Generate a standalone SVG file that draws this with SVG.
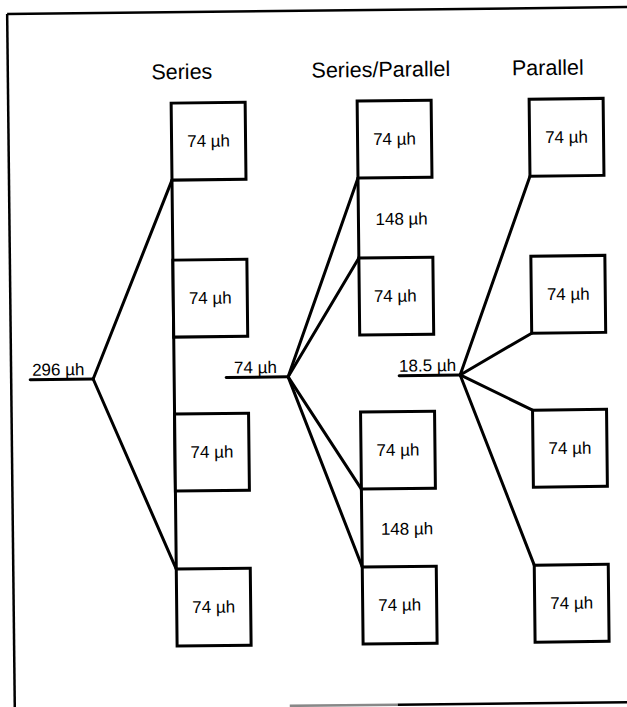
<svg xmlns="http://www.w3.org/2000/svg" width="627" height="707" viewBox="0 0 627 707">
<style>
.box{fill:#fff;stroke:#000;stroke-width:3}
.ln{stroke:#000;stroke-width:3;fill:none;stroke-linecap:round;stroke-linejoin:round}
.fr{stroke:#000;stroke-width:2.5;fill:none}
text{font-family:"Liberation Sans",Arial,Helvetica,sans-serif;fill:#000}
.lbl{font-size:17px;text-anchor:middle}
.jl{font-size:17px}
.ttl{font-size:21.5px;text-anchor:middle}
</style>
<rect width="627" height="707" fill="#fff"/>
<g transform="rotate(-0.63)">
<g id="frame">
<line class="fr" x1="7" y1="14" x2="650" y2="14"/>
<line class="fr" x1="7" y1="14" x2="7" y2="730"/>
<line x1="282" y1="709" x2="390" y2="709" stroke="#888" stroke-width="2.5"/>
<line class="fr" x1="390" y1="709" x2="650" y2="709"/>
</g>
<g id="titles">
<text class="ttl" x="181" y="81">Series</text>
<text class="ttl" x="380" y="81">Series/Parallel</text>
<text class="ttl" x="547" y="81">Parallel</text>
</g>
<g id="connectors">
<line class="ln" x1="26" y1="380" x2="89" y2="380"/>
<line class="ln" x1="89" y1="380" x2="170" y2="182"/>
<line class="ln" x1="89" y1="380" x2="170" y2="571"/>
<line class="ln" x1="170" y1="182" x2="170" y2="571"/>
<line class="ln" x1="222" y1="380" x2="284" y2="380"/>
<line class="ln" x1="284" y1="380" x2="356" y2="182"/>
<line class="ln" x1="284" y1="380" x2="356" y2="262"/>
<line class="ln" x1="284" y1="380" x2="356" y2="493"/>
<line class="ln" x1="284" y1="380" x2="356" y2="571"/>
<line class="ln" x1="356" y1="182" x2="356" y2="262"/>
<line class="ln" x1="356" y1="493" x2="356" y2="571"/>
<line class="ln" x1="395" y1="380" x2="456" y2="380"/>
<line class="ln" x1="456" y1="380" x2="528" y2="182"/>
<line class="ln" x1="456" y1="380" x2="528" y2="339"/>
<line class="ln" x1="456" y1="380" x2="528" y2="416"/>
<line class="ln" x1="456" y1="380" x2="528" y2="571"/>
</g>
<g id="j-series"><text class="jl" x="28" y="376">296 µh</text></g>
<g id="j-sp"><text class="jl" x="230" y="376">74 µh</text></g>
<g id="j-par"><text class="jl" x="395" y="376">18.5 µh</text></g>
<g id="sp-mid1"><text class="jl" x="373" y="229">148 µh</text></g>
<g id="sp-mid2"><text class="jl" x="375" y="539">148 µh</text></g>
<g id="s1"><rect class="box" x="170" y="105" width="74" height="77"/><text class="lbl" x="207" y="149">74 µh</text></g>
<g id="s2"><rect class="box" x="170" y="262" width="74" height="77"/><text class="lbl" x="207" y="306">74 µh</text></g>
<g id="s3"><rect class="box" x="170" y="416" width="74" height="77"/><text class="lbl" x="207" y="460">74 µh</text></g>
<g id="s4"><rect class="box" x="170" y="571" width="74" height="77"/><text class="lbl" x="207" y="615">74 µh</text></g>
<g id="sp1"><rect class="box" x="356" y="105" width="74" height="77"/><text class="lbl" x="393" y="149">74 µh</text></g>
<g id="sp2"><rect class="box" x="356" y="262" width="74" height="77"/><text class="lbl" x="392" y="306">74 µh</text></g>
<g id="sp3"><rect class="box" x="356" y="416" width="74" height="77"/><text class="lbl" x="393" y="460">74 µh</text></g>
<g id="sp4"><rect class="box" x="356" y="571" width="74" height="77"/><text class="lbl" x="393" y="615">74 µh</text></g>
<g id="p1"><rect class="box" x="528" y="105" width="74" height="77"/><text class="lbl" x="565" y="149">74 µh</text></g>
<g id="p2"><rect class="box" x="528" y="262" width="74" height="77"/><text class="lbl" x="565" y="306">74 µh</text></g>
<g id="p3"><rect class="box" x="528" y="416" width="74" height="77"/><text class="lbl" x="565" y="460">74 µh</text></g>
<g id="p4"><rect class="box" x="528" y="571" width="74" height="77"/><text class="lbl" x="565" y="615">74 µh</text></g>
</g>
</svg>
